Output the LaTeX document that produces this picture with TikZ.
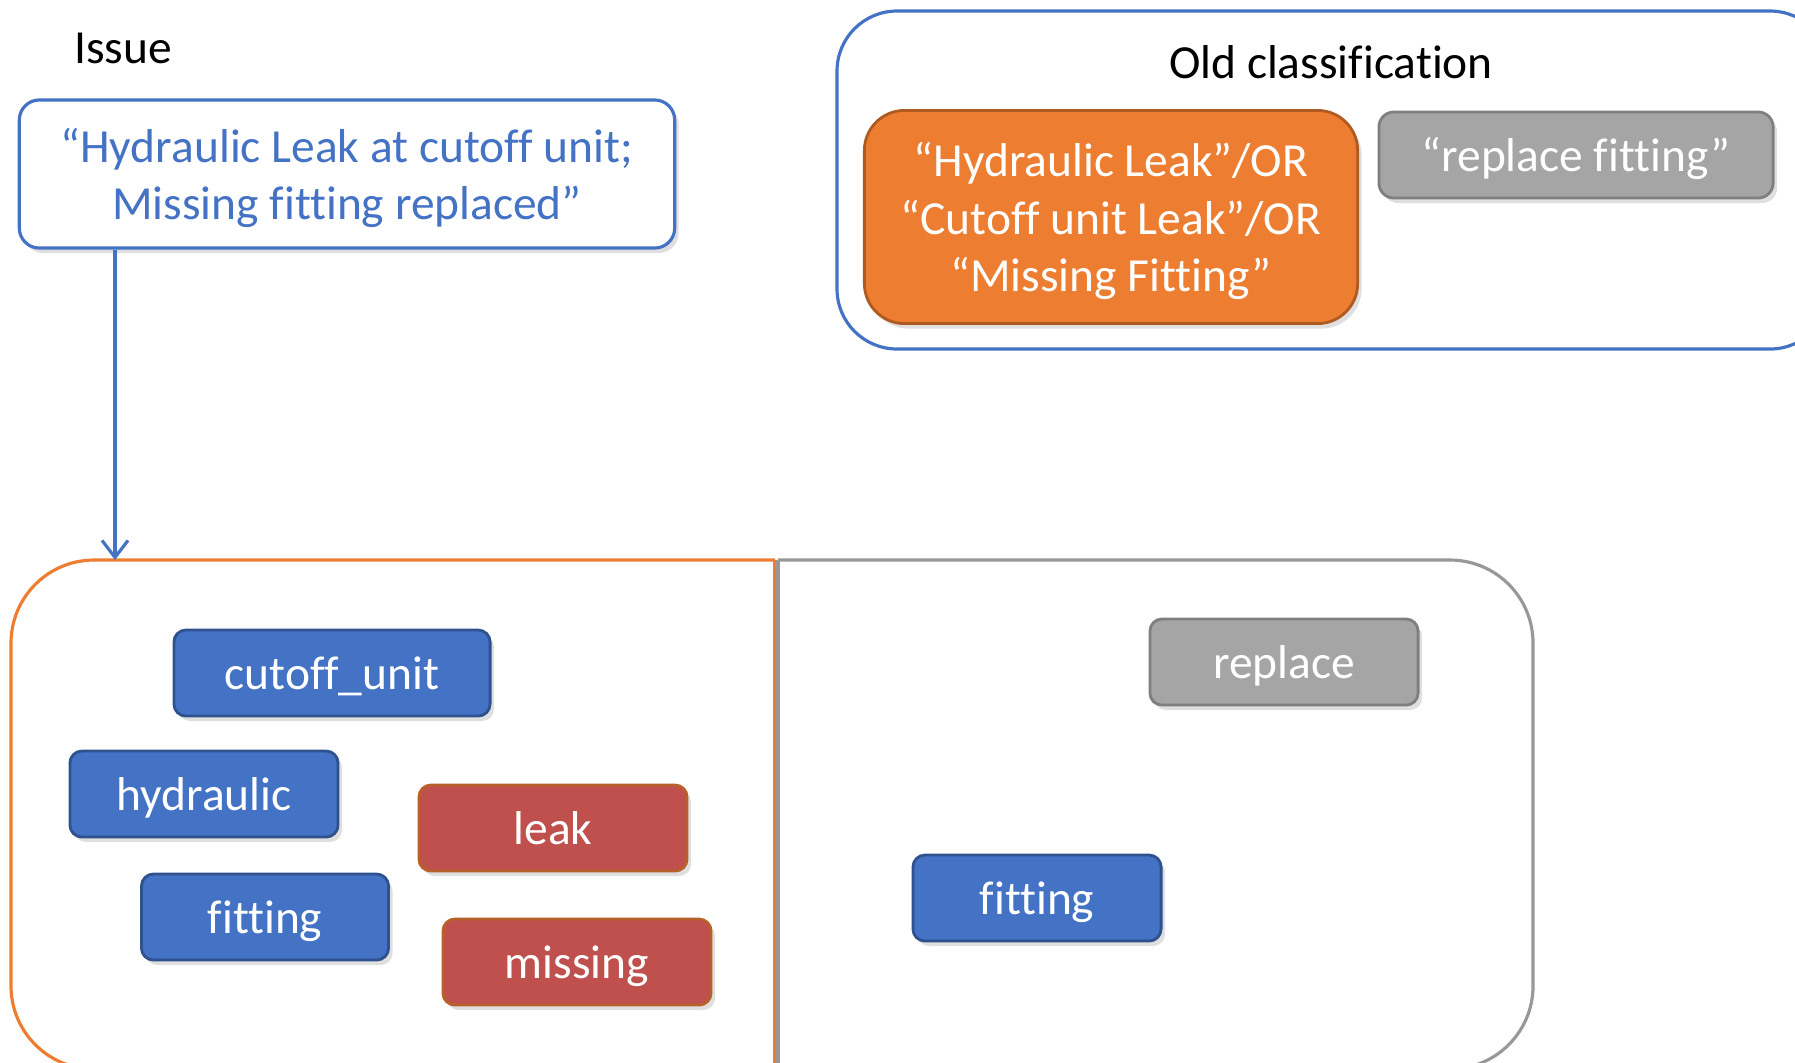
\documentclass[tikz,border=0pt]{standalone}
\usepackage{fontspec}
\setmainfont{Carlito}[Ligatures=NoCommon]
\usetikzlibrary{arrows.meta}
\usetikzlibrary{shadows}
\usetikzlibrary{positioning}

\definecolor{officeblue}{HTML}{4472C4}
\definecolor{blueedge}{HTML}{2F528F}
\definecolor{officered}{HTML}{C0504D}
\definecolor{rededge}{HTML}{B8602A}
\definecolor{officeorange}{HTML}{ED7D31}
\definecolor{orangeedge}{HTML}{AE5A21}
\definecolor{officegray}{HTML}{A5A5A5}
\definecolor{grayedge}{HTML}{7F7F7F}

\begin{document}
\begin{tikzpicture}[
    x = 0.01cm, y = -0.01cm,
    >={Straight Barb[length=0.17cm, width=0.26cm]},
    font = \fontsize{13.5pt}{16.3pt}\selectfont,
    soft/.style = {
      drop shadow = {opacity=0.25, shadow xshift=0.04cm, shadow yshift=-0.05cm},
    },
    tag/.style = {
      soft, rounded corners = 0.12cm, line width = 0.8pt,
      text = white, inner sep = 0pt,
      text height = 0.38cm, text depth = 0.06cm,
      minimum width = 2.68cm, minimum height = 0.86cm,
    },
    bluetag/.style = {tag, fill = officeblue, draw = blueedge},
    redtag/.style  = {tag, fill = officered, draw = rededge},
    graytag/.style = {tag, fill = officegray, draw = grayedge},
    lines/.style = {align = center, inner sep = 0pt},
  ]

  \useasboundingbox (0,0) rectangle (1795,1062);

  % issue text
  \node (title) at (123,48) {Issue};
  \node[soft, draw = officeblue, fill = white, line width = 0.9pt,
        rounded corners = 0.2cm,
        minimum width = 6.55cm, minimum height = 1.48cm] (issue)
    at (347,174) {};
  \node[lines, text = officeblue] (issuetext) at (347,178)
    {“Hydraulic Leak at cutoff unit;\\Missing fitting replaced”};

  % old classification
  \draw[officeblue, line width = 0.9pt, rounded corners = 0.6cm]
    (837,11) rectangle (1830,349);
  \node (oldtitle) at (1331,62) {Old classification};
  \node[soft, fill = officeorange, draw = orangeedge, line width = 0.8pt,
        rounded corners = 0.4cm,
        minimum width = 4.93cm, minimum height = 2.13cm] (oldrule)
    at (1111,217) {};
  \node[lines, text = white] (oldruletext) at (1111,221)
    {“Hydraulic Leak”/OR\\“Cutoff unit Leak”/OR\\“Missing Fitting”};
  \node[graytag, rounded corners = 0.15cm,
        minimum width = 3.94cm] (oldfix) at (1576,155) {“replace fitting”};

  % new classification
  \begin{scope}
    \clip (0,540) rectangle (775,1080);
    \draw[officeorange, line width = 0.9pt, rounded corners = 0.83cm]
      (11,560) rectangle (950,1069);
  \end{scope}
  \draw[officeorange, line width = 0.9pt] (775,560) -- (775,1069);
  \begin{scope}
    \clip (778,540) rectangle (1600,1080);
    \draw[grayedge!80, line width = 0.9pt, rounded corners = 0.83cm]
      (600,560) rectangle (1533,1069);
  \end{scope}
  \draw[grayedge!80, line width = 0.9pt] (778,560) -- (778,1069);

  \node[bluetag, minimum width = 3.16cm] (cutoff) at (332,673) {cutoff\_unit};
  \node[bluetag] (hydraulic) at (204,794) {hydraulic};
  \node[redtag] (leak) at (553,828) {leak};
  \node[bluetag, minimum width = 2.47cm] (fitting) at (265,917) {fitting};
  \node[redtag] (missing) at (577,962) {missing};
  \node[graytag] (replace) at (1284,662) {replace};
  \node[bluetag, minimum width = 2.48cm] (fitting2) at (1037,898) {fitting};

  \coordinate (entry) at (115,560);
  \draw[officeblue, line width = 0.9pt, ->] (issue.south -| entry) -- (entry);
\end{tikzpicture}
\end{document}
